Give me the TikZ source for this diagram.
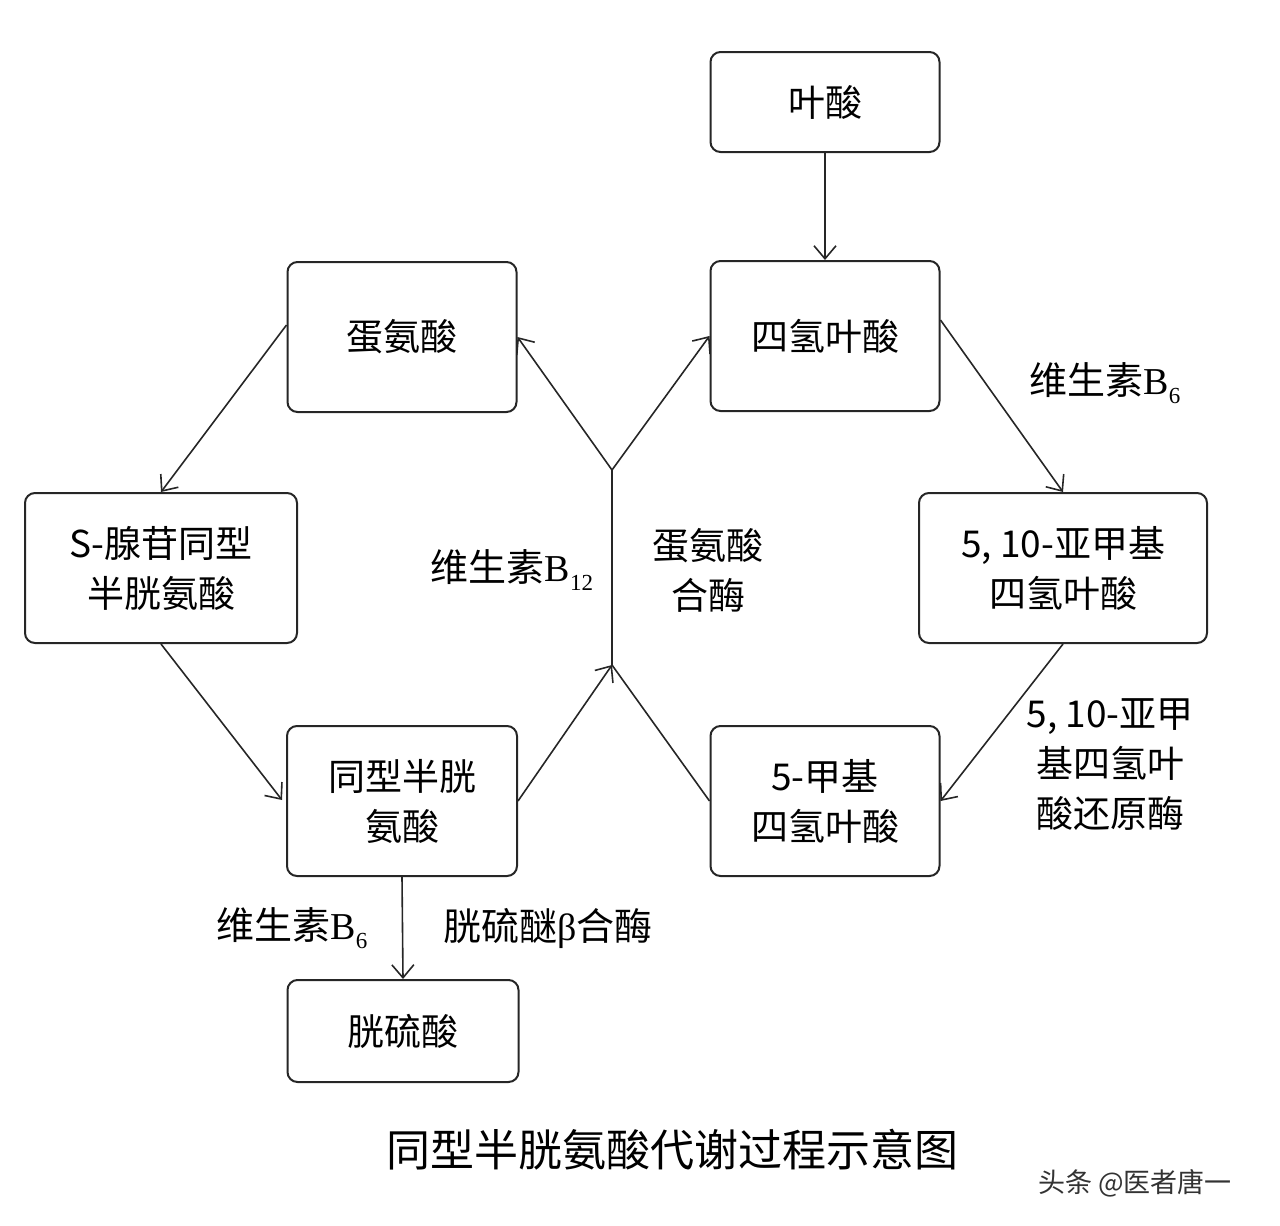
\documentclass[tikz,border=0pt]{standalone}
\usepackage{fontspec}
\setmainfont{Liberation Serif}
\newfontfamily\cjk{Noto Sans CJK SC}
\usetikzlibrary{arrows.meta}
\newcommand{\Bsub}[1]{B\raisebox{-0.25em}{\fontsize{23}{23}\selectfont #1}}
\begin{document}
\begin{tikzpicture}[x=1pt,y=-1pt,
  box/.style={draw=black!85,line width=2pt,rounded corners=10pt,align=center,font=\fontsize{37}{50}\selectfont\cjk,inner sep=0pt},
  big/.style={box,minimum width=229pt,minimum height=150pt},
  small/.style={box,minimum width=229pt,minimum height=100pt},
  lab/.style={align=center,font=\fontsize{38}{50}\selectfont},
  arr/.style={line width=1.6pt,draw=black!85,-{Straight Barb[length=13pt,width=22pt,line width=1.6pt]}},
  ln/.style={line width=1.6pt,draw=black!85}]
\useasboundingbox (0,0) rectangle (1280,1226);
\node[small] (fa) at (825,102) {叶酸};
\node[big] (thf) at (825,336) {四氢叶酸};
\node[big] (met) at (402,337) {蛋氨酸};
\node[big,minimum width=272pt] (sah) at (161,568) {S-腺苷同型\\半胱氨酸};
\node[big,minimum width=288pt] (mthf) at (1063,568) {5, 10-亚甲基\\四氢叶酸};
\node[big,minimum width=230pt] (hcy) at (402,801) {同型半胱\\氨酸};
\node[big] (me) at (825,801) {5-甲基\\四氢叶酸};
\node[small,minimum width=231pt,minimum height=102pt] (cys) at (403,1031) {胱硫酸};
\coordinate (j1) at (612,665);
\coordinate (j2) at (612,470);
\draw[arr] (fa) -- (thf);
\draw[arr] (met.west|-0,325) -- (sah.north);
\draw[arr] (sah.south) -- (282,800);
\draw[ln] (me.west) -- (j1);
\draw[arr] (hcy.east) -- (j1);
\draw[ln] (j1) -- (j2);
\draw[arr] (j2) -- (met.east);
\draw[arr] (j2) -- (thf.west);
\draw[arr] (thf.east|-0,320) -- (mthf.north);
\draw[arr] (mthf.south) -- (me.east);
\draw[arr] (hcy.south) -- (cys.north);
\node[lab] (l1) at (1105,383) {{\cjk 维生素}\Bsub{6}};
\node[lab] (l2) at (512,570) {{\cjk 维生素}\Bsub{12}};
\node[lab,font=\fontsize{37}{50}\selectfont\cjk] (l3) at (708,570) {蛋氨酸\\合酶};
\node[lab,font=\fontsize{37}{50}\selectfont\cjk] (l4) at (1110,765) {5, 10-亚甲\\基四氢叶\\酸还原酶};
\node[lab] (l5) at (292,928) {{\cjk 维生素}\Bsub{6}};
\node[lab] (l6) at (548,928) {{\cjk 胱硫醚}β{\cjk 合酶}};
\node[font=\fontsize{44}{44}\selectfont\cjk] (cap) at (672,1150) {同型半胱氨酸代谢过程示意图};
\node[font=\fontsize{27}{27}\selectfont\cjk,text=black!80] (wm) at (1135,1183) {头条 @医者唐一};
\end{tikzpicture}
\end{document}
